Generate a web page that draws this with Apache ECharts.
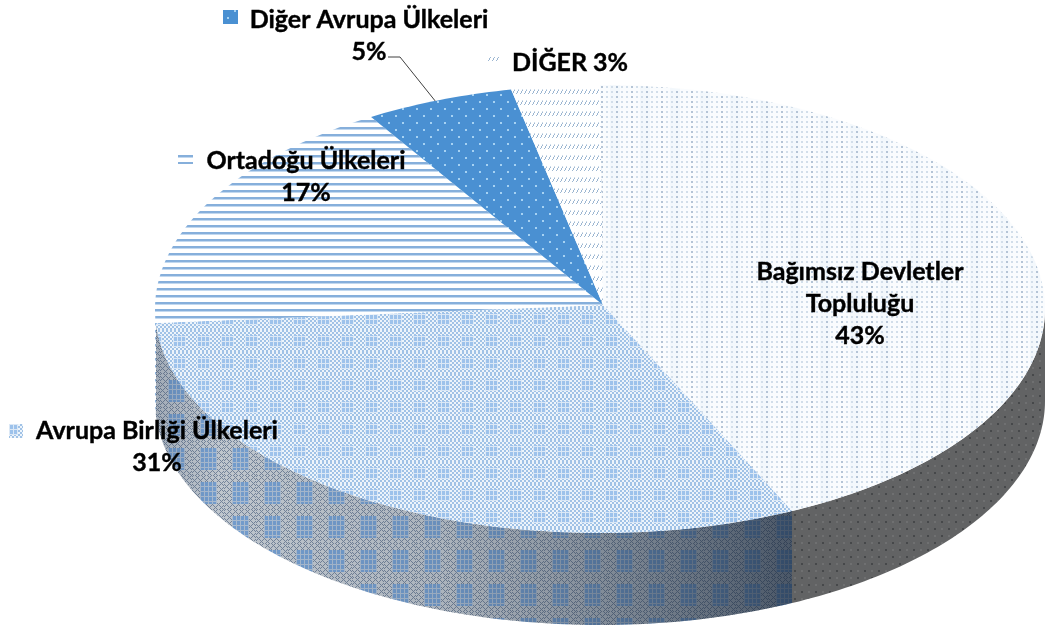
<!DOCTYPE html>
<html>
<head>
<meta charset="utf-8">
<title>Pie</title>
<script src="https://cdn.jsdelivr.net/npm/echarts@6/dist/echarts.min.js"></script>
<style>
  html, body { margin: 0; padding: 0; background: #fff; overflow: hidden; }
  #chart { width: 1045px; height: 626px; filter: blur(0.45px); }
</style>
</head>
<body>
<div id="chart"></div>
<script>
// slices clockwise from 12 o'clock, shares
var categories = ['Bağımsız Devletler\nTopluluğu', 'Avrupa Birliği Ülkeleri', 'Ortadoğu Ülkeleri', 'Diğer Avrupa Ülkeleri', 'DİĞER'];
var shares = [42.9, 31.1, 17.4, 5.4, 3.2];

// ellipse of the top face, and how far the wall drops
var cx = 600, cy = 309, rx = 445, ry = 224, depth = 92;

function tile(w, h, draw) {
  var c = document.createElement('canvas');
  c.width = w;
  c.height = h;
  draw(c.getContext('2d'));
  return { image: c, repeat: 'repeat' };
}

function px(ctx, color, x, y, w, h) {
  ctx.fillStyle = color;
  ctx.fillRect(x, y, w || 1, h || 1);
}

var dotsTop = tile(30, 30, function (ctx) {
  px(ctx, '#fafcfe', 0, 0, 30, 30);
  px(ctx, '#f3f8fc', 10, 0, 10, 30);
  for (var x = 0; x < 30; x += 5) {
    for (var y = 0; y < 30; y += 5) {
      px(ctx, x % 15 === 0 ? '#b4c4d6' : '#d2deea', x + 1, y + 1, 2, 2);
    }
  }
});

var checkTop = tile(24, 22, function (ctx) {
  for (var x = 0; x < 24; x++) {
    for (var y = 0; y < 22; y++) {
      var inBlock = x >= 5 && x < 18 && y >= 5 && y < 17;
      var color;
      if (inBlock) {
        color = (x % 4 === 1 || y % 5 === 1) ? '#dbe8f6' : '#9dc2eb';
      } else {
        color = ((x >> 1) + (y >> 1)) % 2 ? '#a0c2e6' : '#edf4fb';
      }
      px(ctx, color, x, y);
    }
  }
});

var stripes = tile(8, 7, function (ctx) {
  px(ctx, '#ffffff', 0, 0, 8, 7);
  px(ctx, '#86afdb', 0, 1, 8, 2);
  px(ctx, '#c2d8ef', 0, 3, 8, 1);
});

var solidDots = tile(14, 14, function (ctx) {
  px(ctx, '#4a90d2', 0, 0, 14, 14);
  px(ctx, '#a6d2f3', 3, 3, 2, 2);
  px(ctx, '#a6d2f3', 10, 10, 2, 2);
});

var hatch = tile(8, 11, function (ctx) {
  px(ctx, '#ffffff', 0, 0, 8, 11);
  for (var i = 0; i < 2; i++) {
    var x = i * 4;
    px(ctx, '#9db7d2', x, 5);
    px(ctx, '#9db7d2', x + 1, 4);
    px(ctx, '#9db7d2', x + 1, 3);
    px(ctx, '#9db7d2', x + 2, 2);
    px(ctx, '#cddbe9', x + 2, 1);
  }
});

var wallGrey = tile(14, 14, function (ctx) {
  px(ctx, '#626364', 0, 0, 14, 14);
  px(ctx, '#46484a', 3, 3, 2, 2);
  px(ctx, '#46484a', 10, 10, 2, 2);
  px(ctx, '#6f7071', 10, 3, 2, 2);
  px(ctx, '#6f7071', 3, 10, 2, 2);
});

var wallCheck = tile(32, 34, function (ctx) {
  for (var x = 0; x < 32; x++) {
    for (var y = 0; y < 34; y++) {
      var inBlock = x >= 8 && x < 25 && y >= 6 && y < 28;
      var d = (x + y) % 6, e = (x - y + 68) % 6;
      var color;
      if (inBlock) {
        color = (x % 4 === 0 || y % 5 === 0) ? '#a9bbd0' : '#739ccc';
      } else {
        color = (d < 1 || e < 1) ? '#74849a' : '#bfc6cd';
      }
      px(ctx, color, x, y);
    }
  }
});

var sliceFill = [dotsTop, checkTop, stripes, solidDots, hatch];
var wallFill = [wallGrey, wallCheck, stripes, solidDots, hatch];

// label box: centre x, top y, legend key rect
var labelLayout = [
  { x: 860, y: 256, lh: 32, key: [735, 265, 7, 7] },
  { x: 157, y: 415, lh: 32, key: [9, 424, 14, 14] },
  { x: 306, y: 145, lh: 32, key: [178, 152, 15, 12] },
  { x: 369, y: 4, lh: 32, key: [223, 10, 15, 14] },
  { x: 570, y: 47, lh: 32, key: [487, 57, 13, 7] }
];

function point(deg, drop) {
  var t = deg * Math.PI / 180;
  return [cx + rx * Math.sin(t), cy + (drop || 0) - ry * Math.cos(t)];
}

function arc(from, to, drop) {
  var pts = [];
  var n = Math.max(2, Math.ceil(Math.abs(to - from)));
  for (var i = 0; i <= n; i++) {
    pts.push(point(from + (to - from) * i / n, drop));
  }
  return pts;
}

var total = shares.reduce(function (a, b) { return a + b; }, 0);

function renderSlice(params, api) {
  var i = params.dataIndex;
  var before = 0;
  for (var k = 0; k < i; k++) before += shares[k];
  var value = api.value(0);
  var start = before / total * 360;
  var end = (before + value) / total * 360;
  var children = [];

  // wall, only the part facing the viewer
  var wFrom = Math.max(start, 90), wTo = Math.min(end, 270);
  if (wTo > wFrom) {
    var wall = arc(wFrom, wTo, 0).concat(arc(wTo, wFrom, depth));
    children.push({ type: 'polygon', shape: { points: wall }, style: { fill: wallFill[i] } });
    if (i === 1) {
      children.push({
        type: 'polygon',
        shape: { points: wall },
        style: {
          fill: {
            type: 'linear', global: true, x: 155, y: 0, x2: 793, y2: 0,
            colorStops: [
              { offset: 0, color: 'rgba(40,60,90,0.2)' },
              { offset: 0.1, color: 'rgba(40,60,90,0)' },
              { offset: 0.45, color: 'rgba(30,45,65,0.12)' },
              { offset: 0.75, color: 'rgba(25,40,60,0.42)' },
              { offset: 1, color: 'rgba(20,35,55,0.68)' }
            ]
          }
        }
      });
    }
  }

  // top face
  children.push({
    type: 'polygon',
    shape: { points: [[cx + 3, cy - 4]].concat(arc(start, end, 0)) },
    style: { fill: sliceFill[i] }
  });

  // label
  var lay = labelLayout[i];
  var pct = Math.round(value) + '%';
  var text = i === 4 ? categories[i] + ' ' + pct : categories[i] + '\n' + pct;
  children.push({
    type: 'text',
    z2: 10,
    style: {
      x: lay.x, y: lay.y, text: text,
      align: 'center', verticalAlign: 'top',
      font: 'bold 25px Lato', lineHeight: lay.lh, fill: '#000000',
      stroke: '#000000', lineWidth: 0.4
    }
  });
  children.push({
    type: 'rect',
    z2: 10,
    shape: { x: lay.key[0], y: lay.key[1], width: lay.key[2], height: lay.key[3] },
    style: { fill: sliceFill[i] }
  });

  // leader line of the small slice
  if (i === 3) {
    var mid = point((start + end) / 2 - 0.5, 0);
    children.push({
      type: 'polyline',
      z2: 10,
      shape: { points: [[388, 57], [400, 57], mid] },
      style: { stroke: '#404040', lineWidth: 1, fill: null }
    });
  }
  return { type: 'group', children: children };
}

var myChart = echarts.init(document.getElementById('chart'), null, { renderer: 'canvas' });
myChart.setOption({
  animation: false,
  backgroundColor: '#ffffff',
  series: [{
    type: 'custom',
    coordinateSystem: 'none',
    renderItem: renderSlice,
    data: shares.map(function (v, i) { return { name: categories[i], value: [v] }; })
  }]
});
</script>
</body>
</html>
